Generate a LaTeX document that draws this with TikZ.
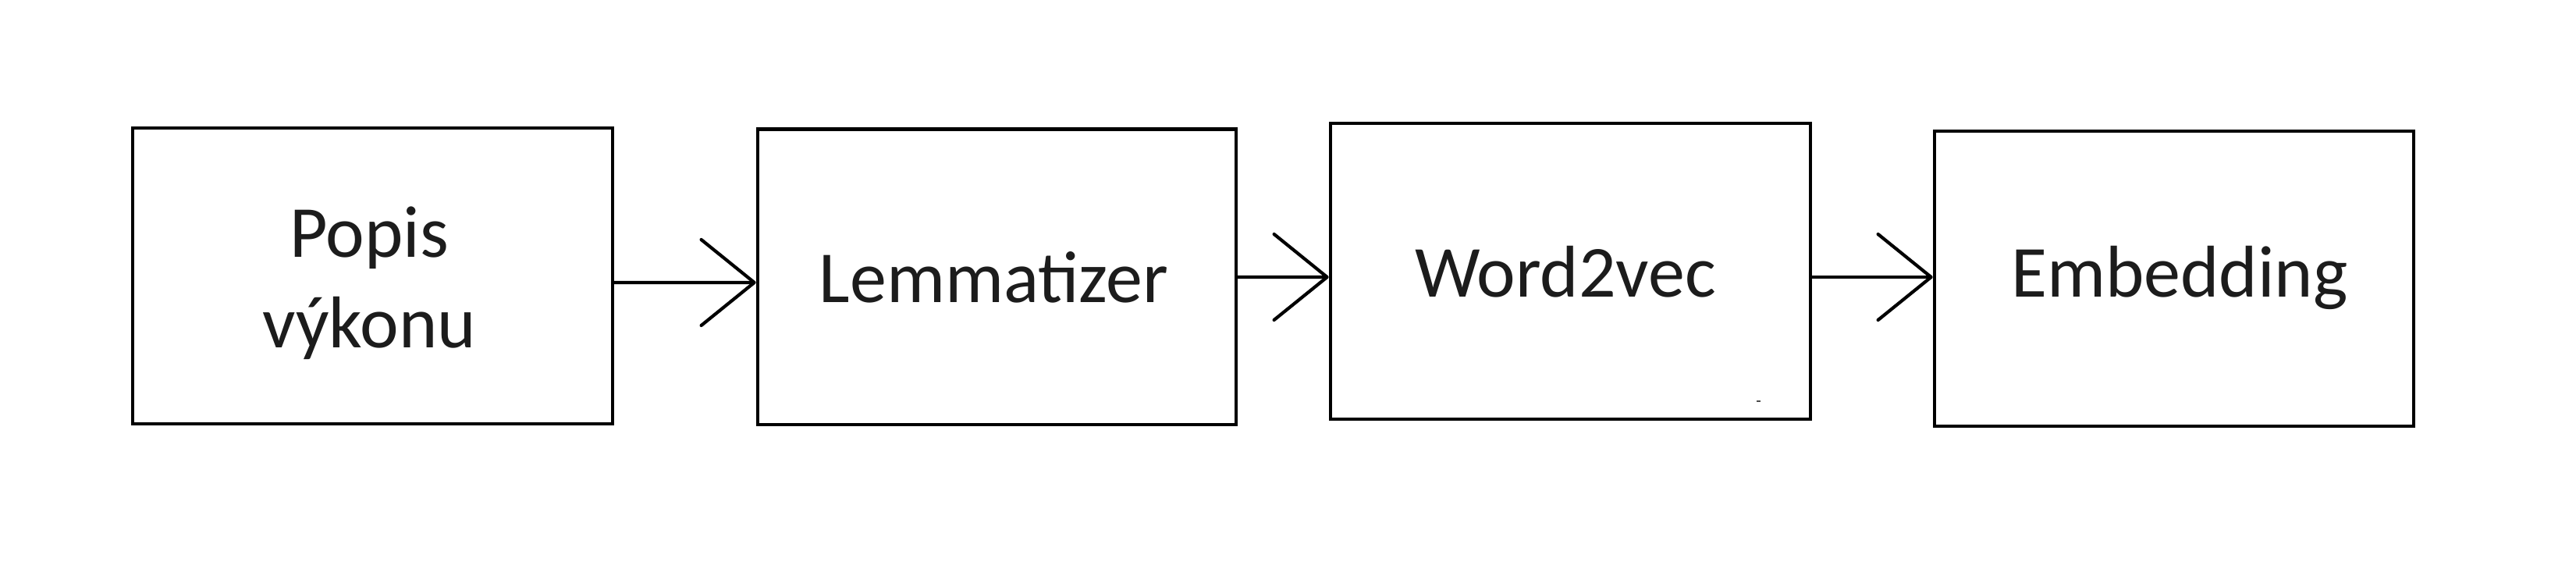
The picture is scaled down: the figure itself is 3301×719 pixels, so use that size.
\documentclass[tikz,border=0pt]{standalone}
\usepackage{fontspec}
\setmainfont{Carlito}
\usetikzlibrary{arrows.meta}
\definecolor{txt}{HTML}{1C1C1C}
\tikzset{
  stage/.style={draw=black, line width=1.15pt, inner sep=0pt},
  lbl/.style={inner sep=0pt, anchor=base, text=txt,
    font=\fontsize{23.5}{29}\selectfont},
  flow/.style={draw=black, line width=1.05pt, line cap=round,
    -{Straight Barb[length=17pt, width=27.5pt, round]}}
}
\begin{document}
\begin{tikzpicture}[x=0.25pt,y=-0.25pt]
\useasboundingbox (0,0) rectangle (3301,719);
\node[stage, minimum width=153.75pt, minimum height=94.75pt] (b1) at (477.5,353.5) {};
\node[stage, minimum width=153.25pt, minimum height=94.6pt] (b2) at (1277.5,354.75) {};
\node[stage, minimum width=153.75pt, minimum height=94.75pt] (b3) at (2012.5,347.5) {};
\node[stage, minimum width=153.5pt, minimum height=94.5pt] (b4) at (2786,357) {};
\node[lbl] (t1a) at (473,329) {Popis};
\node[lbl] (t1b) at (473,445) {výkonu};
\node[lbl] (t2) at (1273.5,387) {Lemmatizer};
\node[lbl] (t3) at (2006,380.5) {Word2vec};
\node[lbl] (t4) at (2793,380) {Embedding};
\draw[flow] ([yshift=-2.125pt]b1.east) -- ([yshift=-1.8pt]b2.west);
\draw[flow] ([yshift=-0.05pt]b2.east) -- ([yshift=-1.875pt]b3.west);
\draw[flow] ([yshift=-1.875pt]b3.east) -- ([yshift=0.5pt]b4.west);
\draw[line width=0.3pt, black!70] (2251,514) -- (2256,514);
\end{tikzpicture}
\end{document}
